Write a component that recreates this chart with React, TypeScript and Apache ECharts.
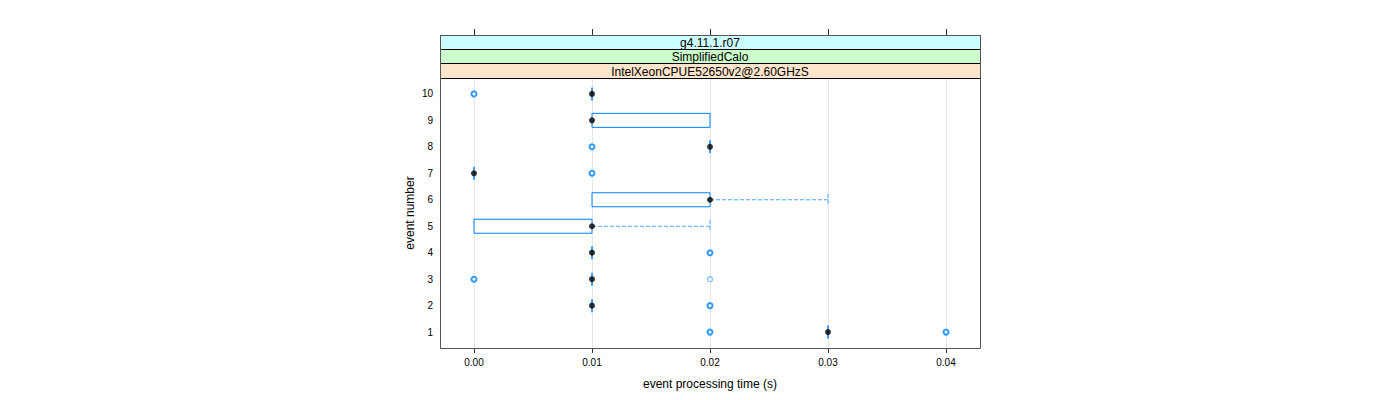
import React, { useEffect, useRef } from "react";
import * as echarts from "echarts";

const events = [1, 2, 3, 4, 5, 6, 7, 8, 9, 10];
const whiskerLow = [0.03, 0.01, 0.01, 0.01, 0.0, 0.01, 0.0, 0.02, 0.01, 0.01];
const q1 = [0.03, 0.01, 0.01, 0.01, 0.0, 0.01, 0.0, 0.02, 0.01, 0.01];
const median = [0.03, 0.01, 0.01, 0.01, 0.01, 0.02, 0.0, 0.02, 0.01, 0.01];
const q3 = [0.03, 0.01, 0.01, 0.01, 0.01, 0.02, 0.0, 0.02, 0.02, 0.01];
const whiskerHigh = [0.03, 0.01, 0.01, 0.01, 0.02, 0.03, 0.0, 0.02, 0.02, 0.01];

// outliers: event, value, number of overlapping points
const outlierEvent = [10, 8, 7, 4, 3, 3, 2, 1, 1];
const outlierValue = [0.0, 0.01, 0.01, 0.02, 0.0, 0.02, 0.02, 0.02, 0.04];
const outlierCount = [2, 2, 2, 2, 2, 1, 2, 2, 2];

const xTicks = [0.0, 0.01, 0.02, 0.03, 0.04];
const yTicks = [1, 2, 3, 4, 5, 6, 7, 8, 9, 10];

const stripLabels = ["g4.11.1.r07", "SimplifiedCalo", "IntelXeonCPUE52650v2@2.60GHzS"];
const stripColors = ["#ccffff", "#ccffcc", "#ffe5cc"];

const xTitle = "event processing time (s)";
const yTitle = "event number";

const FONT = "Liberation Sans, Arial, Helvetica, sans-serif";

export default function App() {
  const ref = useRef<HTMLDivElement>(null);

  useEffect(() => {
    if (!ref.current) return;
    const chart = echarts.init(ref.current, undefined, { renderer: "svg" });

    const gridLeft = 440;
    const gridTop = 78;
    const gridW = 540;
    const gridH = 270;
    const frameTop = 35;
    const stripYs = [35, 49, 63, 78];

    const boxData = events.map((e, i) => [e, whiskerLow[i], q1[i], median[i], q3[i], whiskerHigh[i]]);
    const outlierData = outlierEvent.map((e, i) => ({
      value: [outlierValue[i], e],
      itemStyle:
        outlierCount[i] > 1
          ? { borderColor: "#0080ff", borderWidth: 2 }
          : { borderColor: "rgba(0,128,255,0.55)", borderWidth: 1.5 },
    }));
    const medianData = events.map((e, i) => [median[i], e]);

    const boxH = 14;
    const boxColor = "#0080ff";
    const whiskColor = "#4da6ff";

    const graphics: any[] = [];
    stripLabels.forEach((lab, i) => {
      graphics.push({
        type: "rect",
        shape: { x: gridLeft + 0.5, y: stripYs[i] + 0.5, width: gridW, height: stripYs[i + 1] - stripYs[i] },
        style: { fill: stripColors[i], stroke: "#000", lineWidth: 1 },
        z: 10,
      });
      graphics.push({
        type: "text",
        x: gridLeft + gridW / 2,
        y: (stripYs[i] + stripYs[i + 1]) / 2 + 1,
        style: {
          text: lab,
          font: `12px ${FONT}`,
          fill: "#000",
          align: "center",
          verticalAlign: "middle",
        },
        z: 11,
      });
    });
    graphics.push({
      type: "rect",
      shape: { x: gridLeft + 0.5, y: frameTop + 0.5, width: gridW, height: gridTop + gridH - frameTop },
      style: { fill: "none", stroke: "#555", lineWidth: 1 },
      z: 12,
    });

    const option: any = {
      animation: false,
      textStyle: { fontFamily: FONT },
      grid: { left: gridLeft, top: gridTop, width: gridW, height: gridH, containLabel: false },
      graphic: graphics,
      xAxis: [
        {
          type: "value",
          min: -0.00288,
          max: 0.04288,
          name: xTitle,
          nameLocation: "middle",
          nameGap: 30,
          nameTextStyle: { fontSize: 12, color: "#000", fontFamily: FONT },
          axisLine: { show: false },
          axisTick: { show: true, customValues: xTicks, length: 5, lineStyle: { color: "#333" } },
          axisLabel: {
            customValues: xTicks,
            formatter: (v: number) => v.toFixed(2),
            fontSize: 10,
            color: "#000",
            margin: 9,
            fontFamily: FONT,
          },
          splitLine: { show: false },
        },
        {
          type: "value",
          position: "top",
          offset: gridTop - frameTop,
          min: -0.00288,
          max: 0.04288,
          axisLine: { show: false },
          axisTick: { show: true, customValues: xTicks, length: 6, lineStyle: { color: "#333" } },
          axisLabel: { show: false },
          splitLine: { show: false },
        },
      ],
      yAxis: {
        type: "value",
        min: 0.4,
        max: 10.6,
        name: yTitle,
        nameLocation: "middle",
        nameGap: 24,
        nameTextStyle: { fontSize: 12, color: "#000", fontFamily: FONT },
        axisLine: { show: false },
        axisTick: { show: false },
        axisLabel: { customValues: yTicks, fontSize: 10, color: "#000", margin: 7, fontFamily: FONT },
        splitLine: { show: false },
      },
      series: [
        {
          type: "line",
          data: [],
          z: 1,
          markLine: {
            silent: true,
            z: 1,
            symbol: "none",
            label: { show: false },
            lineStyle: { color: "#e6e6e6", type: "solid", width: 1 },
            data: xTicks.map((v) => ({ xAxis: v })),
          },
        },
        {
          type: "custom",
          data: boxData,
          encode: { x: [1, 2, 3, 4, 5], y: 0 },
          z: 3,
          renderItem: (params: any, api: any) => {
            const ev = api.value(0);
            const wl = api.value(1);
            const b1 = api.value(2);
            const b3 = api.value(4);
            const wh = api.value(5);
            const pWl = api.coord([wl, ev]);
            const p1 = api.coord([b1, ev]);
            const p3 = api.coord([b3, ev]);
            const pWh = api.coord([wh, ev]);
            const y = p1[1];
            const children: any[] = [];
            const dash = { stroke: whiskColor, lineWidth: 1, lineDash: [4, 2] };
            if (pWl[0] < p1[0]) {
              children.push({ type: "line", shape: { x1: pWl[0], y1: y, x2: p1[0], y2: y }, style: dash });
              children.push({ type: "line", shape: { x1: pWl[0], y1: y - boxH / 2 + 1, x2: pWl[0], y2: y + boxH / 2 - 1 }, style: dash });
            }
            if (pWh[0] > p3[0]) {
              children.push({ type: "line", shape: { x1: p3[0], y1: y, x2: pWh[0], y2: y }, style: dash });
              children.push({ type: "line", shape: { x1: pWh[0], y1: y - boxH / 2 + 1, x2: pWh[0], y2: y + boxH / 2 - 1 }, style: dash });
            }
            if (p3[0] - p1[0] > 0.5) {
              children.push({
                type: "rect",
                shape: { x: p1[0], y: y - boxH / 2, width: p3[0] - p1[0], height: boxH },
                style: { fill: "none", stroke: boxColor, lineWidth: 1 },
              });
            } else {
              children.push({
                type: "rect",
                shape: { x: p1[0] - 0.75, y: y - boxH / 2 + 0.5, width: 1.5, height: boxH - 1 },
                style: { fill: boxColor },
              });
            }
            return { type: "group", children };
          },
        },
        {
          type: "scatter",
          data: outlierData,
          symbol: "circle",
          symbolSize: 5,
          itemStyle: { color: "#fff" },
          z: 4,
        },
        {
          type: "scatter",
          data: medianData,
          symbol: "circle",
          symbolSize: 6,
          itemStyle: { color: "#000" },
          z: 5,
        },
      ],
    };

    chart.setOption(option);
    return () => chart.dispose();
  }, []);

  return (
    <div
      ref={ref}
      style={{ position: "absolute", left: 0, top: 0, width: 1400, height: 400 }}
    />
  );
}
